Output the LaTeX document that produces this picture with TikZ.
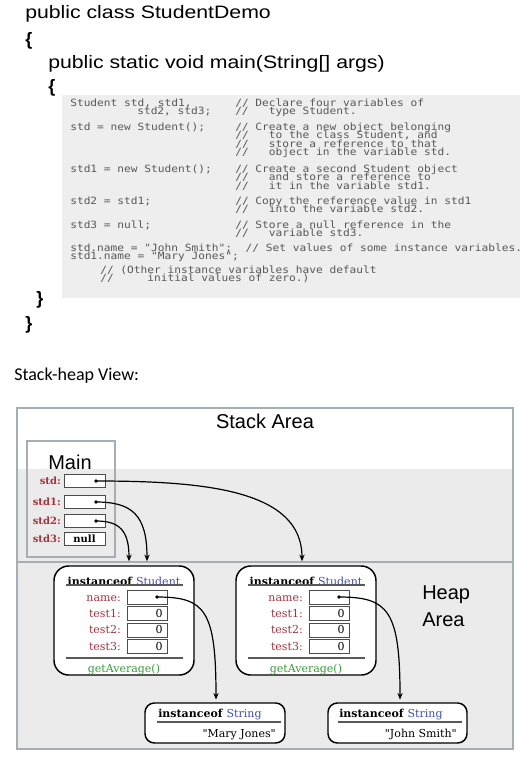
\documentclass[tikz,border=0pt]{standalone}
\usepackage{fontspec}
\setmainfont{Liberation Sans}
\newfontfamily\titlefont{Liberation Sans}[FakeStretch=1.18]
\newfontfamily\codefont{DejaVu Sans Mono}[FakeStretch=1.12]
\newfontfamily\objfont{DejaVu Serif}
\newfontfamily\calfont{Carlito}
\usetikzlibrary{arrows.meta}
\definecolor{codebg}{HTML}{EEEEEE}
\definecolor{codetext}{HTML}{585858}
\definecolor{frame}{HTML}{A3AEB6}
\definecolor{heapbg}{HTML}{EBEBEB}
\definecolor{varred}{HTML}{9E3540}
\definecolor{clsblue}{HTML}{4050B0}
\definecolor{methgreen}{HTML}{3A9A3A}
\newcommand{\cl}[2]{\makebox[123.75pt][l]{#1}#2}
\begin{document}
\begin{tikzpicture}[x=0.75pt,y=-0.75pt,
  title/.style={font=\titlefont\fontsize{13.5}{16}\selectfont, anchor=base west, inner sep=0},
  bracetxt/.style={font=\bfseries\fontsize{13.5}{16}\selectfont, inner sep=0},
  code/.style={font=\codefont\fontsize{7.5}{8}\selectfont, text=codetext, anchor=base west, inner sep=0},
  bigsans/.style={font=\fontsize{15}{18}\selectfont, inner sep=0},
  stklab/.style={font=\objfont\bfseries\fontsize{7.5}{9}\selectfont, text=varred, anchor=base east, inner sep=0},
  fldlab/.style={font=\objfont\fontsize{8.25}{10}\selectfont, text=varred, anchor=base east, inner sep=0},
  objtxt/.style={font=\objfont\fontsize{8.25}{10}\selectfont, inner sep=0},
  varbox/.style={draw=black!70, fill=white, line width=0.6pt, minimum width=30.75pt, minimum height=9.75pt, inner sep=0},
  fldbox/.style={draw=black!70, fill=white, line width=0.6pt, minimum width=30pt, minimum height=10.5pt, inner sep=0},
  dotn/.style={circle, fill=black, inner sep=0, minimum size=2.8pt},
  objbox/.style={draw=black, fill=white, line width=1.1pt, rounded corners=11pt, inner sep=0},
  strbox/.style={draw=black, fill=white, line width=1.1pt, rounded corners=7pt, inner sep=0},
  rule/.style={draw=black!65, line width=0.9pt},
  ref/.style={draw=black, line width=0.9pt, -{Stealth[length=5pt,width=4pt]}}
]
\useasboundingbox (0,0) rectangle (525,761);

% ---------- source code ----------
\node[title] (t1) at (25,18) {public class StudentDemo};
\node[bracetxt] (b1) at (29,41) {\{};
\node[title] (t2) at (48,68) {public static void main(String[] args)};
\node[bracetxt] (b2) at (52,88) {\{};

\fill[codebg] (62,95) rectangle (520,298);
\node[code] (l1) at (70,106) {\cl{Student std, std1,}{// Declare four variables of}};
\node[code] (l2) at (70,114) {\cl{\hspace*{50.25pt}std2, std3;}{//\ \ \ type Student.}};
\node[code] (l3) at (70,130) {\cl{std = new Student();}{// Create a new object belonging}};
\node[code] (l4) at (70,138.5) {\cl{}{//\ \ \ to the class Student, and}};
\node[code] (l5) at (70,147) {\cl{}{//\ \ \ store a reference to that}};
\node[code] (l6) at (70,155.5) {\cl{}{//\ \ \ object in the variable std.}};
\node[code] (l7) at (70,172) {\cl{std1 = new Student();}{// Create a second Student object}};
\node[code] (l8) at (70,180.5) {\cl{}{//\ \ \ and store a reference to}};
\node[code] (l9) at (70,189.5) {\cl{}{//\ \ \ it in the variable std1.}};
\node[code] (l10) at (70,204) {\cl{std2 = std1;}{// Copy the reference value in std1}};
\node[code] (l11) at (70,212.5) {\cl{}{//\ \ \ into the variable std2.}};
\node[code] (l12) at (70,228) {\cl{std3 = null;}{// Store a null reference in the}};
\node[code] (l13) at (70,236.5) {\cl{}{//\ \ \ variable std3.}};
\node[code] (l14) at (70,251.5) {std.name = "John Smith";\ \ // Set values of some instance variables.};
\node[code] (l15) at (70,259.5) {std1.name = "Mary Jones";};
\node[code] (l16) at (100,273) {// (Other instance variables have default};
\node[code] (l17) at (100,281.5) {//\ \ \ \ \ initial values of zero.)};

\node[bracetxt] (b3) at (40,300) {\}};
\node[bracetxt] (b4) at (29,325) {\}};

\node[font=\calfont\fontsize{13.5}{16}\selectfont, anchor=base west, inner sep=0] (shv) at (14,380) {Stack-heap View:};

% ---------- stack / heap frame ----------
\fill[heapbg] (17,469) rectangle (513,749);
\draw[frame, line width=1pt] (17,408) rectangle (513,749);
\draw[frame, line width=1pt] (17,562) -- (513,562);
\node[bigsans] (stackA) at (265,421) {Stack Area};
\node[bigsans, align=left, anchor=north west, font=\fontsize{15}{20.25}\selectfont] (heapA) at (422,585.7) {Heap\\Area};

% Main frame
\draw[frame, line width=0.8pt] (27,441) rectangle (115,557);
\node[bigsans] (mainl) at (70,462) {Main};

\node[stklab] (ls0) at (61,484.5) {std:};
\node[stklab] (ls1) at (61,505.5) {std1:};
\node[stklab] (ls2) at (61,524.5) {std2:};
\node[stklab] (ls3) at (61,542.5) {std3:};
\node[varbox] (vs0) at (84.5,481) {};
\node[varbox] (vs1) at (84.5,502) {};
\node[varbox] (vs2) at (84.5,521) {};
\node[varbox, font=\objfont\bfseries\fontsize{7.5}{9}\selectfont] (vs3) at (84.5,539) {null};
\node[dotn] (d0) at (96,481) {};
\node[dotn] (d1) at (96,502) {};
\node[dotn] (d2) at (96,521) {};

% ---------- Student objects ----------
\foreach \ox/\on in {0/obja, 182/objb} {
  \begin{scope}[xshift=\ox*0.75pt]
  \node[objbox, minimum width=105pt, minimum height=81.75pt] (\on) at (124,620.5) {};
  \node[objtxt] (\on h) at (124,581) {\textbf{instanceof} \textcolor{clsblue}{Student}};
  \draw[rule] (66,585) -- (183,585);
  \node[fldlab] (\on l1) at (121,601) {name:};
  \node[fldlab] (\on l2) at (121,617) {test1:};
  \node[fldlab] (\on l3) at (121,633.5) {test2:};
  \node[fldlab] (\on l4) at (121,650) {test3:};
  \node[fldbox] (\on f1) at (147,597) {};
  \node[fldbox] (\on f2) at (147,613.5) {};
  \node[fldbox] (\on f3) at (147,630) {};
  \node[fldbox] (\on f4) at (147,646.5) {};
  \node[objtxt, anchor=base east] (\on z2) at (163,617) {0};
  \node[objtxt, anchor=base east] (\on z3) at (163,633.5) {0};
  \node[objtxt, anchor=base east] (\on z4) at (163,650) {0};
  \node[dotn] (\on d) at (157,597) {};
  \draw[rule] (66,658) -- (183,658);
  \node[objtxt, text=methgreen, anchor=base] (\on m) at (124,672) {getAverage()};
  \end{scope}
}

% ---------- String objects ----------
\node[strbox, minimum width=105pt, minimum height=30pt] (stra) at (215,723) {};
\node[objtxt, anchor=base west] (strah) at (158,717) {\textbf{instanceof} \textcolor{clsblue}{String}};
\draw[rule] (157,722) -- (281,722);
\node[objtxt, anchor=base east] (strav) at (276,737) {"Mary Jones"};

\node[strbox, minimum width=104.25pt, minimum height=30pt] (strb) at (397.5,723) {};
\node[objtxt, anchor=base west] (strbh) at (339,717) {\textbf{instanceof} \textcolor{clsblue}{String}};
\draw[rule] (338,722) -- (462,722);
\node[objtxt, anchor=base east] (strbv) at (457,737) {"John Smith"};

% ---------- references ----------
\draw[ref, shorten >=3pt] (d0.center) .. controls (205,481) and (302,490) .. ([xshift=-3pt]objb.north);
\draw[ref, shorten >=3pt] (d1.center) .. controls (132,502) and (147,515) .. ([xshift=17.25pt]obja.north);
\draw[ref, shorten >=3pt] (d2.center) .. controls (119,521) and (129,530) .. ([xshift=3.75pt]obja.north);
\draw[ref, shorten >=2pt] (objad.center) .. controls (205,597) and (216,610) .. ([xshift=0.75pt]stra.north);
\draw[ref, shorten >=2pt] (objbd.center) .. controls (388,597) and (400,610) .. ([xshift=1.9pt]strb.north);
\end{tikzpicture}
\end{document}
